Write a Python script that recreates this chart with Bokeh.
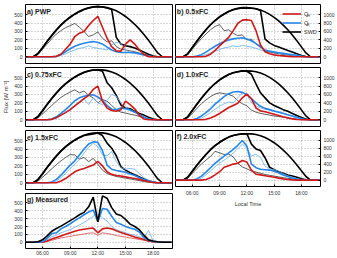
from bokeh.plotting import figure
from bokeh.models import Range1d, FixedTicker, Label, Legend, LegendItem
from bokeh.layouts import row, column
from bokeh.embed import file_html
from bokeh.resources import INLINE

FONT = "Liberation Sans"

# half-hourly time axis (local time, hours)
hours = [4.0, 4.5, 5.0, 5.5, 6.0, 6.5, 7.0, 7.5, 8.0, 8.5, 9.0, 9.5, 10.0,
         10.5, 11.0, 11.5, 12.0, 12.5, 13.0, 13.5, 14.0, 14.5, 15.0, 15.5,
         16.0, 16.5, 17.0, 17.5, 18.0, 18.5, 19.0, 19.5, 20.0]
hour_ticks = [6, 9, 12, 15, 18]
hour_labels = ["06:00", "09:00", "12:00", "15:00", "18:00"]
left_ticks = [0, 100, 200, 300, 400, 500]
right_ticks = [0, 200, 400, 600, 800, 1000]

# clear-sky shortwave (left-column units / right-column units)
cs_left = [0, 0, 0, 40, 110, 185, 255, 320, 380, 430, 472, 508, 540, 563, 580, 590, 594, 592, 583, 567,
           545, 515, 478, 435, 385, 328, 265, 195, 120, 45, 0, 0, 0]
cs_right = [0, 0, 0, 70, 220, 370, 510, 640, 760, 860, 945, 1015, 1075, 1115, 1140, 1155, 1160, 1155, 1140,
            1110, 1065, 1005, 935, 850, 750, 640, 515, 380, 235, 90, 0, 0, 0]

# a) PWP
a_swd = [0, 0, 0, 35, 105, 180, 250, 315, 375, 425, 468, 505, 535, 560, 578, 592, 598, 590, 578, 560, 230,
         150, 130, 120, 105, 80, 55, 30, 10, 0, 0, 0, 0]
a_swd2 = [0, 0, 0, 25, 90, 150, 215, 270, 310, 345, 370, 395, 350, 300, 240, 260, 295, 220, 175, 190, 120,
          90, 80, 70, 60, 45, 30, 15, 5, 0, 0, 0, 0]
a_qh = [0, 0, 0, 0, 0, 0, 0, 5, 30, 90, 150, 240, 280, 300, 370, 430, 480, 350, 220, 120, 70, 65, 150, 200,
        150, 80, 30, 0, 0, 0, 0, 0, 0]
a_qe = [0, 0, 0, 0, 0, 0, 0, 5, 30, 60, 95, 125, 145, 160, 172, 180, 170, 150, 115, 80, 60, 50, 50, 50, 48,
        35, 22, 10, 0, 0, 0, 0, 0]
a_qe2 = [0, 0, 0, 0, 0, 0, 0, 0, 15, 35, 60, 80, 100, 110, 130, 110, 100, 90, 80, 140, 170, 160, 80, 50, 40,
         30, 20, 10, 0, 0, 0, 0, 0]

# b) 0.5xFC
b_swd = [0, 0, 0, 70, 220, 370, 510, 640, 760, 860, 945, 1015, 1075, 1120, 1150, 1170, 1165, 1150, 1140,
         1100, 420, 330, 270, 230, 190, 150, 110, 70, 30, 5, 0, 0, 0]
b_swd2 = [0, 0, 0, 50, 180, 310, 430, 540, 640, 720, 760, 620, 640, 560, 500, 520, 400, 420, 310, 250, 140,
          110, 90, 70, 55, 40, 25, 12, 4, 0, 0, 0, 0]
b_qh = [0, 0, 0, 0, 0, 0, 0, 10, 60, 150, 260, 360, 460, 620, 790, 870, 880, 860, 620, 280, 120, 70, 45, 30,
        20, 10, 0, 0, 0, 0, 0, 0, 0]
b_qe = [0, 0, 0, 0, 0, 15, 50, 110, 180, 250, 310, 360, 400, 425, 440, 450, 420, 380, 310, 230, 160, 130,
        110, 95, 80, 65, 50, 35, 15, 0, 0, 0, 0]
b_qe2 = [0, 0, 0, 0, 0, 0, 20, 50, 90, 130, 170, 210, 230, 260, 240, 270, 250, 230, 200, 160, 140, 150, 120,
         95, 75, 55, 35, 20, 5, 0, 0, 0, 0]

# c) 0.75xFC
c_swd = [0, 0, 0, 35, 105, 180, 250, 315, 375, 425, 468, 505, 535, 560, 578, 590, 590, 575, 440, 380, 290,
         175, 140, 130, 100, 75, 55, 30, 10, 0, 0, 0, 0]
c_swd2 = [0, 0, 0, 20, 70, 120, 170, 220, 265, 300, 330, 355, 320, 340, 290, 260, 200, 240, 220, 170, 120,
          90, 80, 65, 55, 40, 25, 12, 4, 0, 0, 0, 0]
c_qh = [0, 0, 0, 0, 0, 0, 5, 25, 55, 85, 120, 165, 205, 250, 290, 360, 400, 220, 140, 110, 100, 120, 220,
        180, 130, 50, 10, 0, 0, 0, 0, 0, 0]
c_qe = [0, 0, 0, 0, 0, 0, 10, 35, 75, 120, 170, 225, 260, 280, 292, 295, 270, 230, 170, 125, 120, 140, 130,
        115, 90, 60, 30, 10, 0, 0, 0, 0, 0]
c_qe2 = [0, 0, 0, 0, 0, 0, 0, 20, 50, 90, 130, 170, 220, 250, 180, 260, 200, 180, 230, 300, 280, 200, 150,
         120, 90, 60, 35, 15, 0, 0, 0, 0, 0]

# d) 1.0xFC
d_swd = [0, 0, 0, 70, 220, 370, 510, 640, 760, 860, 945, 1015, 1075, 1115, 1140, 1160, 1150, 1080, 850, 640,
         520, 400, 340, 290, 240, 200, 150, 100, 55, 20, 0, 0, 0]
d_swd2 = [0, 0, 0, 40, 150, 270, 380, 470, 550, 610, 640, 620, 600, 560, 450, 380, 330, 230, 180, 150, 130,
          110, 90, 75, 60, 45, 30, 15, 5, 0, 0, 0, 0]
d_qh = [0, 0, 0, 0, 0, 0, 0, 10, 40, 90, 150, 220, 290, 340, 390, 520, 610, 500, 280, 210, 190, 160, 130,
        100, 70, 45, 20, 5, 0, 0, 0, 0, 0]
d_qe = [0, 0, 0, 0, 0, 30, 90, 170, 260, 370, 460, 550, 620, 660, 670, 650, 600, 500, 400, 320, 270, 240,
        210, 180, 150, 120, 90, 60, 30, 5, 0, 0, 0]
d_qe2 = [0, 0, 0, 0, 0, 0, 40, 100, 170, 250, 320, 380, 420, 400, 520, 640, 600, 400, 330, 280, 250, 230,
         200, 190, 160, 120, 80, 45, 15, 0, 0, 0, 0]

# e) 1.5xFC
e_swd = [0, 0, 0, 35, 105, 180, 250, 315, 375, 425, 468, 505, 535, 560, 570, 580, 590, 560, 470, 410, 320,
         190, 150, 120, 95, 70, 45, 25, 8, 0, 0, 0, 0]
e_swd2 = [0, 0, 0, 20, 65, 115, 165, 215, 260, 300, 335, 330, 280, 300, 250, 290, 220, 150, 110, 90, 75, 65,
          55, 45, 35, 25, 15, 8, 2, 0, 0, 0, 0]
e_qh = [0, 0, 0, 0, 0, 0, 0, 0, 20, 50, 90, 130, 155, 170, 190, 210, 255, 200, 130, 100, 85, 80, 70, 60, 50,
        40, 25, 12, 3, 0, 0, 0, 0]
e_qe = [0, 0, 0, 0, 0, 0, 10, 40, 90, 150, 210, 260, 330, 400, 460, 485, 480, 380, 210, 160, 145, 135, 125,
        105, 85, 60, 40, 20, 5, 0, 0, 0, 0]
e_qe2 = [0, 0, 0, 0, 0, 0, 0, 20, 60, 110, 170, 220, 280, 350, 420, 470, 430, 330, 320, 370, 250, 180, 160,
         170, 160, 110, 60, 30, 8, 0, 0, 0, 0]

# f) 2.0xFC
f_swd = [0, 0, 0, 70, 220, 370, 510, 640, 760, 860, 945, 1015, 1075, 1115, 1140, 1155, 1160, 900, 780, 740,
         560, 320, 260, 210, 170, 130, 100, 70, 35, 10, 0, 0, 0]
f_swd2 = [0, 0, 0, 50, 170, 290, 400, 500, 590, 720, 680, 640, 650, 580, 420, 330, 280, 230, 200, 170, 140,
          120, 100, 80, 60, 45, 30, 15, 5, 0, 0, 0, 0]
f_qh = [0, 0, 0, 0, 0, 0, 0, 15, 60, 130, 210, 320, 360, 400, 420, 490, 450, 250, 150, 130, 110, 90, 70, 50,
        30, 15, 5, 0, 0, 0, 0, 0, 0]
f_qe = [0, 0, 0, 0, 0, 30, 100, 200, 310, 420, 510, 600, 680, 770, 870, 990, 850, 400, 310, 270, 260, 250,
        220, 180, 130, 90, 55, 25, 5, 0, 0, 0, 0]
f_qe2 = [0, 0, 0, 0, 0, 0, 50, 130, 230, 330, 420, 500, 580, 680, 780, 900, 800, 600, 650, 560, 350, 280,
         260, 220, 160, 110, 70, 35, 10, 0, 0, 0, 0]

# g) Measured
g_swd = [0, 0, 0, 5, 30, 80, 140, 175, 205, 240, 275, 310, 350, 380, 450, 575, 260, 590, 560, 440, 360, 340,
         290, 230, 200, 160, 90, 30, 15, 5, 0, 0, 0]
g_qe = [0, 0, 0, 0, 5, 50, 110, 120, 170, 200, 235, 275, 310, 350, 385, 410, 260, 430, 420, 330, 250, 230,
        200, 180, 165, 130, 60, 25, 10, 3, 0, 0, 0]
g_qe2 = [0, 0, 0, 0, 3, 30, 70, 90, 120, 140, 160, 190, 220, 250, 290, 330, 360, 310, 270, 200, 160, 140,
         120, 100, 90, 70, 60, 150, 15, 3, 0, 0, 0]
g_qh = [0, 0, 0, 0, 0, 15, 40, 60, 80, 100, 120, 140, 155, 165, 175, 180, 120, 170, 180, 170, 145, 125, 105,
        85, 65, 50, 35, 15, 5, 0, 0, 0, 0]
g_qh2 = [0, 0, 0, 0, 0, 10, 25, 40, 55, 65, 75, 85, 95, 105, 115, 120, 90, 120, 110, 100, 85, 75, 65, 55,
         45, 35, 25, 12, 4, 0, 0, 0, 0]

RED = "#d01818"
LRED = "#d84848"
BLUE = "#2686e6"
LBLUE = "#62aef0"
BLACK = "#000000"
GREY_TXT = "#333333"


def style_axis(ax):
    ax.major_label_text_font = FONT
    ax.major_label_text_font_size = "5px"
    ax.major_label_text_color = GREY_TXT
    ax.major_tick_in = 2
    ax.major_tick_out = 0
    ax.minor_tick_line_color = None
    ax.axis_line_color = None
    ax.major_label_standoff = 3


def make_panel(side, height, top, bottom, tag):
    left = side == "left"
    p = figure(
        width=173 if left else 164, height=height,
        x_range=Range1d(4.15, 20.1),
        y_range=Range1d(-80, 620) if left else Range1d(-160, 1240),
        y_axis_location="left" if left else "right",
        min_border_left=25 if left else 2,
        min_border_right=1 if left else 15,
        min_border_top=top, min_border_bottom=bottom,
        output_backend="svg", toolbar_location=None,
    )
    p.background_fill_color = "white"
    p.border_fill_color = "white"
    p.outline_line_color = "black"
    p.outline_line_width = 1
    p.outline_line_alpha = 1

    ticks = left_ticks if left else right_ticks
    ya = p.yaxis[0]
    ya.ticker = FixedTicker(ticks=ticks)
    style_axis(ya)

    xa = p.xaxis[0]
    xa.ticker = FixedTicker(ticks=hour_ticks)
    xa.major_label_overrides = dict(zip(hour_ticks, hour_labels))
    style_axis(xa)
    xa.visible = False

    p.xgrid.ticker = FixedTicker(ticks=hour_ticks)
    p.ygrid.ticker = FixedTicker(ticks=ticks)
    for g in (p.xgrid, p.ygrid):
        g.grid_line_color = "#8c8c8c"
        g.grid_line_dash = "1 2"
        g.grid_line_width = 0.7

    p.add_layout(Label(x=4.3, y=539 if left else 1078, text=tag,
                       text_font=FONT, text_font_size="7px", text_font_style="bold",
                       text_color="#222222", text_baseline="middle", text_align="left"))
    return p


def draw_model(p, cs, swd, swd2, qh, qe, qe2):
    p.line(hours, cs, line_color=BLACK, line_width=1.6)
    r_swd = p.line(hours, swd, line_color=BLACK, line_width=1.6)
    p.line(hours, swd2, line_color="#1a1a1a", line_width=0.7)
    p.line(hours, qe2, line_color=LBLUE, line_width=0.8)
    r_qe = p.line(hours, qe, line_color=BLUE, line_width=1.6)
    r_qh = p.line(hours, qh, line_color=RED, line_width=1.6)
    return r_qh, r_qe, r_swd


pa = make_panel("left", 65, 4, 2, "a) PWP")
draw_model(pa, cs_left, a_swd, a_swd2, a_qh, a_qe, a_qe2)

pb = make_panel("right", 65, 4, 2, "b) 0.5xFC")
r_qh, r_qe, r_swd = draw_model(pb, cs_right, b_swd, b_swd2, b_qh, b_qe, b_qe2)
legend = Legend(
    items=[LegendItem(label="Q", renderers=[r_qh]),
           LegendItem(label="Q", renderers=[r_qe]),
           LegendItem(label="SWD", renderers=[r_swd])],
    location=(107, 27), orientation="vertical",
    border_line_color=None, background_fill_alpha=0,
    padding=0, margin=0, spacing=0,
    glyph_width=19, glyph_height=9, label_height=9, label_standoff=3,
    label_text_font=FONT, label_text_font_size="5.5px", label_text_color=GREY_TXT,
)
pb.add_layout(legend)
for sub, yv in (("H", 975), ("E", 755)):
    pb.add_layout(Label(x=18.62, y=yv, text=sub, text_font=FONT, text_font_size="4px",
                        text_color=GREY_TXT, text_baseline="middle", text_align="left"))

pc = make_panel("left", 63, 2, 2, "c) 0.75xFC")
draw_model(pc, cs_left, c_swd, c_swd2, c_qh, c_qe, c_qe2)
pc.yaxis[0].axis_label = "Flux [W m⁻²]"
pc.yaxis[0].axis_label_text_font = FONT
pc.yaxis[0].axis_label_text_font_size = "6px"
pc.yaxis[0].axis_label_text_font_style = "normal"
pc.yaxis[0].axis_label_text_color = GREY_TXT
pc.yaxis[0].axis_label_standoff = 2

pd_ = make_panel("right", 63, 2, 2, "d) 1.0xFC")
draw_model(pd_, cs_right, d_swd, d_swd2, d_qh, d_qe, d_qe2)

pe = make_panel("left", 63, 2, 2, "e) 1.5xFC")
draw_model(pe, cs_left, e_swd, e_swd2, e_qh, e_qe, e_qe2)

pf = make_panel("right", 81, 2, 20, "f) 2.0xFC")
draw_model(pf, cs_right, f_swd, f_swd2, f_qh, f_qe, f_qe2)
fx = pf.xaxis[0]
fx.visible = True
fx.axis_label = "Local Time"
fx.axis_label_text_font = FONT
fx.axis_label_text_font_size = "5.5px"
fx.axis_label_text_font_style = "normal"
fx.axis_label_text_color = GREY_TXT
fx.axis_label_standoff = 2

pg = make_panel("left", 67, 2, 6, "g) Measured")
pg.line(hours, g_qh2, line_color=LRED, line_width=0.8)
pg.line(hours, g_qe2, line_color=LBLUE, line_width=0.8)
pg.line(hours, g_qh, line_color=RED, line_width=1.6)
pg.line(hours, g_qe, line_color=BLUE, line_width=1.6)
pg.line(hours, g_swd, line_color=BLACK, line_width=1.6)
gx = pg.xaxis[0]
gx.visible = True
gx.major_label_standoff = 1

layout = row(column(pa, pc, pe, pg), column(pb, pd_, pf))

open("out.html", "w").write(file_html(layout, INLINE))
